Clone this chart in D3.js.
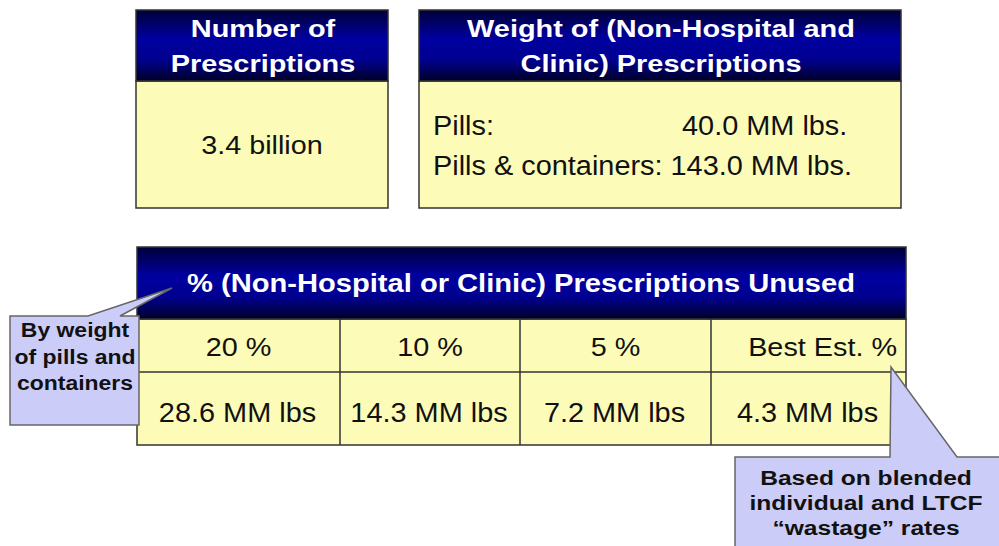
<!DOCTYPE html>
<html>
<head>
<meta charset="utf-8">
<script src="https://cdn.jsdelivr.net/npm/d3@7"></script>
<style>
  body { margin: 0; background: #fff; }
  text { font-family: "Liberation Sans", Arial, sans-serif; }
</style>
</head>
<body>
<svg id="main-svg" width="999" height="546"></svg>
<script>
// data
var countTitle = ['Number of', 'Prescriptions'];
var countValue = ['3.4 billion'];
var weightTitle = ['Weight of (Non-Hospital and', 'Clinic) Prescriptions'];
var weightLabels = ['Pills:', 'Pills & containers:'];
var weightValues = [40.0, 143.0];
var unusedTitle = '% (Non-Hospital or Clinic) Prescriptions Unused';
var unusedPct = ['20 %', '10 %', '5 %', 'Best Est. %'];
var unusedLbs = [28.6, 14.3, 7.2, 4.3];
var leftNote = ['By weight', 'of pills and', 'containers'];
var rightNote = ['Based on blended', 'individual and LTCF', '\u201cwastage\u201d rates'];

var svg = d3.select('#main-svg');
var fill_body = '#fcfcb8';
var fill_note = '#ccccf8';
var stroke_dark = '#333';

// header gradient, dark edges and brighter blue in the middle
var grad = svg.append('defs').append('linearGradient')
    .attr('id', 'hdr').attr('x1', 0).attr('y1', 0).attr('x2', 0).attr('y2', 1);
grad.append('stop').attr('offset', '0%').attr('stop-color', '#000038');
grad.append('stop').attr('offset', '40%').attr('stop-color', '#0000a0');
grad.append('stop').attr('offset', '70%').attr('stop-color', '#000090');
grad.append('stop').attr('offset', '100%').attr('stop-color', '#000028');

// the source picture is stretched sideways, so each label gets a x-scale
function label(g, x, y, str, size, sx, opts) {
    opts = opts || {};
    return g.append('text')
        .attr('transform', 'translate(' + x + ',' + y + ') scale(' + sx + ',1)')
        .attr('text-anchor', opts.anchor || 'middle')
        .attr('font-size', size)
        .attr('font-weight', opts.bold ? 'bold' : 'normal')
        .attr('fill', opts.fill || '#111')
        .text(str);
}

function headerBox(g, x, y, w, hh, hb) {
    g.append('rect')
        .attr('x', x).attr('y', y + hh).attr('width', w).attr('height', hb)
        .attr('fill', fill_body).attr('stroke', stroke_dark).attr('stroke-width', 1.5);
    g.append('rect')
        .attr('x', x).attr('y', y).attr('width', w).attr('height', hh)
        .attr('fill', 'url(#hdr)').attr('stroke', stroke_dark).attr('stroke-width', 1.5);
}

function titleText(g, lines, cx, y0, dy) {
    lines.forEach(function(d, i) {
        label(g, cx, y0 + i * dy, d, 23.5, 1.23, { bold: true, fill: '#fff' });
    });
}

// box 1: number of prescriptions
var b1 = svg.append('g');
headerBox(b1, 136, 10, 252, 71, 127);
titleText(b1, countTitle, 263, 37, 35);
countValue.forEach(function(d) { label(b1, 262, 154, d, 25, 1.15); });

// box 2: weight, short labels tab to a stop, long ones just get a space
var b2 = svg.append('g');
headerBox(b2, 419, 10, 482, 71, 127);
titleText(b2, weightTitle, 661, 37, 35);
var wy = d3.scalePoint().domain(weightLabels).range([135, 175]);
var tabStop = 682, bodyScale = 1.07;
weightLabels.forEach(function(d, i) {
    var t = label(b2, 433, wy(d), d, 27, bodyScale, { anchor: 'start' });
    var end = 433 + t.node().getComputedTextLength() * bodyScale + 8;
    label(b2, end < tabStop - 20 ? tabStop : end, wy(d), weightValues[i].toFixed(1) + ' MM lbs.', 27, bodyScale,
        { anchor: 'start' });
});

// bottom table
var t = svg.append('g');
var colEdges = [137, 340, 520, 711, 906];
var rowTop = 319, rowMid = 372, rowBot = 445;
t.append('rect')
    .attr('x', colEdges[0]).attr('y', rowTop)
    .attr('width', colEdges[4] - colEdges[0]).attr('height', rowBot - rowTop)
    .attr('fill', fill_body).attr('stroke', stroke_dark).attr('stroke-width', 1.5);
t.append('rect')
    .attr('x', colEdges[0]).attr('y', 247)
    .attr('width', colEdges[4] - colEdges[0]).attr('height', rowTop - 247)
    .attr('fill', 'url(#hdr)').attr('stroke', stroke_dark).attr('stroke-width', 1.5);
t.append('line')
    .attr('x1', colEdges[0]).attr('x2', colEdges[4]).attr('y1', rowMid).attr('y2', rowMid)
    .attr('stroke', stroke_dark).attr('stroke-width', 1.5);
t.selectAll(null).data(colEdges.slice(1, 4)).enter().append('line')
    .attr('x1', function(d) { return d; }).attr('x2', function(d) { return d; })
    .attr('y1', rowTop).attr('y2', rowBot)
    .attr('stroke', stroke_dark).attr('stroke-width', 1.5);
label(t, 521, 292, unusedTitle, 25, 1.165, { bold: true, fill: '#fff' });

function colCenter(i) { return (colEdges[i] + colEdges[i + 1]) / 2; }
unusedPct.forEach(function(d, i) {
    if (i == 3) label(t, colEdges[4] - 9, 356, d, 25.5, 1.13, { anchor: 'end' });
    else label(t, colCenter(i), 356, d, 25.5, 1.13);
});
unusedLbs.forEach(function(d, i) {
    label(t, colCenter(i) - 1, 422, d.toFixed(1) + ' MM lbs', 27, 1.07);
});

// callouts
function callout(pts, lines, cx, y0, dy, sx) {
    var g = svg.append('g');
    g.append('path')
        .attr('d', d3.line()(pts) + 'Z')
        .attr('fill', fill_note).attr('stroke', '#666').attr('stroke-width', 1.5);
    lines.forEach(function(d, i) {
        label(g, cx, y0 + i * dy, d, 20.5, sx, { bold: true });
    });
}

callout([[10, 316], [88, 316], [172, 288], [120, 316], [139, 316], [139, 425], [10, 425]],
    leftNote, 75, 337, 26.5, 1.12);
callout([[735, 457], [890, 457], [891, 367], [957, 457], [1000, 457], [1000, 547], [735, 547]],
    rightNote, 866, 485, 25, 1.2);
</script>
</body>
</html>
